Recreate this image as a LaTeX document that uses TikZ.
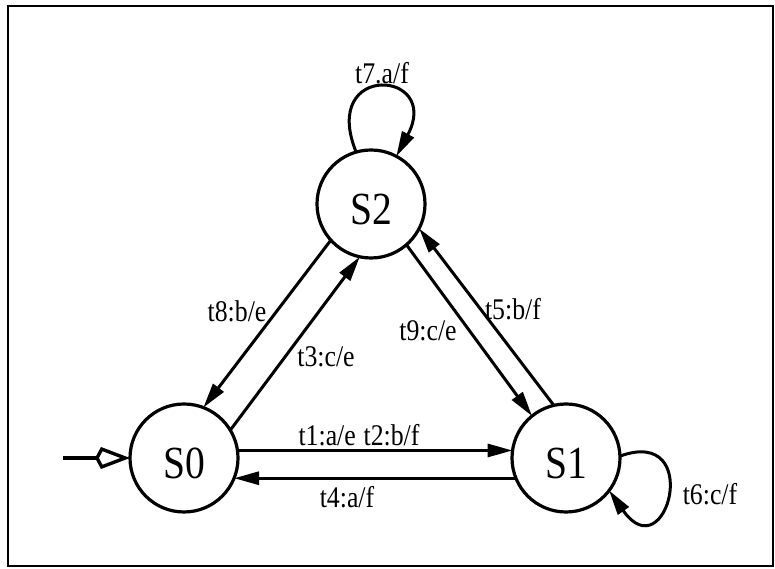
\documentclass[tikz,border=0pt]{standalone}
\usepackage{fontspec}
\usepackage{graphicx}
\setmainfont{Liberation Serif}
\usetikzlibrary{arrows.meta}
% horizontally condensed text, as in the printed figure
\newcommand{\sqz}[1]{\scalebox{0.86}[1]{#1}}
\begin{document}
\begin{tikzpicture}[x=1pt,y=1pt,
  state/.style={draw, circle, line width=3.2pt, minimum size=108pt,
    inner sep=0pt, outer sep=0pt, text height=42pt, text depth=1.6pt,
    font=\fontsize{46}{46}\selectfont},
  trans/.style={line width=3pt, -{Triangle[length=25pt,width=13pt]}},
  lbl/.style={font=\fontsize{30}{30}\selectfont, inner sep=0pt}]
\useasboundingbox (0,0) rectangle (775,569);
% frame
\draw[line width=2.6pt] (8,3) rectangle (773,563);

% states
\node[state] (S0) at (184,111) {\sqz{S0}};
\node[state] (S1) at (566,111) {\sqz{S1}};
\node[state] (S2) at (371,365) {\sqz{S2}};

% initial state marker
\coordinate (init) at (63,111);
\draw[line width=3.4pt, -{Kite[open,length=35pt,width=22pt,inset=6pt]}] (init) -- (S0.west);

% transitions between S0 and S1
\draw[trans] (S0.8) -- (S1.172);
\draw[trans] (S1.-158) -- (S0.-22);
% transitions between S0 and S2
\draw[trans] (S2.-138) -- (S0.69);
\draw[trans] (S0.31) -- (S2.-102);
% transitions between S1 and S2
\draw[trans] (S2.-49) -- (S1.129);
\draw[trans] (S1.103) -- (S2.-27);
% self loops
\draw[trans] (S2.106) .. controls +(112:98) and +(62:98) .. (S2.62);
\draw[trans] (S1.2) .. controls +(20:90) and +(-55:100) .. (S1.-37);

% transition labels
\node[lbl] (l12) at (359,134) {\sqz{t1:a/e\hspace{9pt}t2:b/f}};
\node[lbl] (l4) at (347,72) {\sqz{t4:a/f}};
\node[lbl] (l8) at (237,258) {\sqz{t8:b/e}};
\node[lbl] (l3) at (326,212) {\sqz{t3:c/e}};
\node[lbl] (l9) at (428,238) {\sqz{t9:c/e}};
\node[lbl] (l5) at (513,260) {\sqz{t5:b/f}};
\node[lbl] (l7) at (382,496) {\sqz{t7.a/f}};
\node[lbl] (l6) at (710,75) {\sqz{t6:c/f}};
\end{tikzpicture}
\end{document}
